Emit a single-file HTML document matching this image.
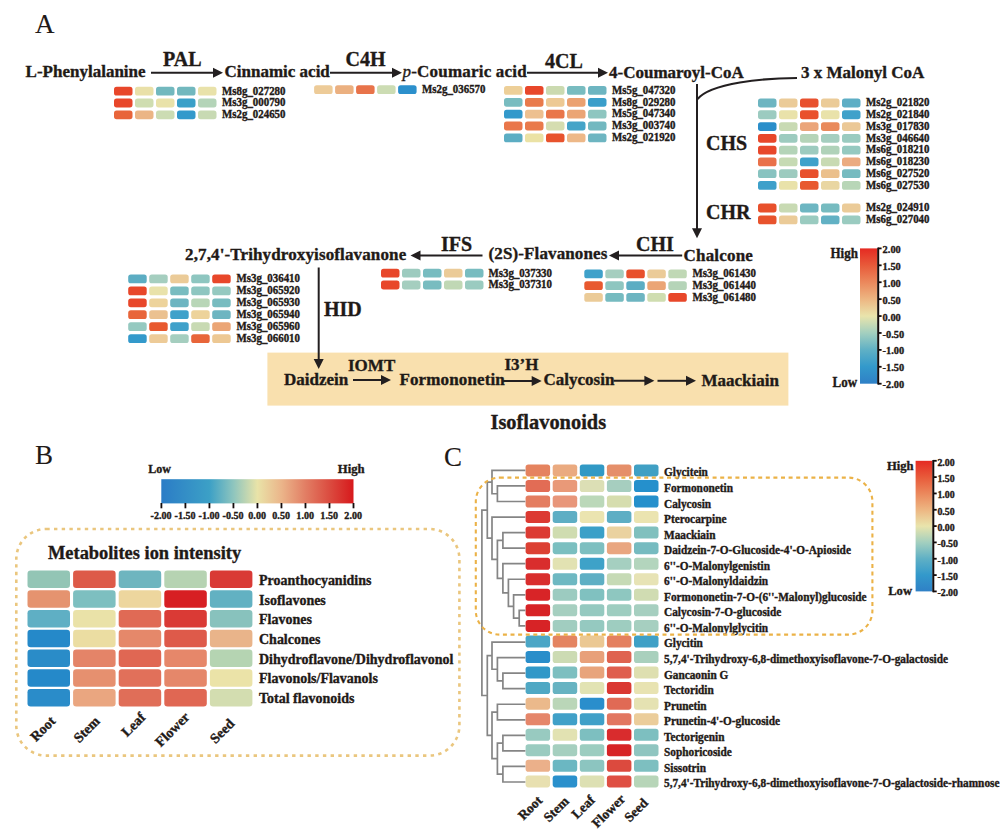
<!DOCTYPE html>
<html><head><meta charset="utf-8"><style>
html,body{margin:0;padding:0;background:#fff;}
svg{display:block;}
text{font-family:"Liberation Serif", serif;fill:#1f1a17;stroke:#1f1a17;stroke-width:0.35px;}
</style></head><body>
<svg width="1000" height="830" viewBox="0 0 1000 830">
<rect width="1000" height="830" fill="#fff"/>
<text x="35" y="33" font-size="27" font-weight="normal" style="stroke-width:0.1px">A</text>
<text x="25.6" y="77" font-size="17" font-weight="bold">L-Phenylalanine</text>
<text transform="translate(163,66.1) scale(1,1.05)" font-size="20" font-weight="bold">PAL</text>
<line x1="151" y1="72.8" x2="214" y2="72.8" stroke="#231f20" stroke-width="2"/>
<path d="M223 72.8 L213 67.8 L213 77.8 Z" fill="#231f20"/>
<text x="224.5" y="77" font-size="17" font-weight="bold">Cinnamic acid</text>
<text transform="translate(345.5,66.4) scale(1,1.05)" font-size="20" font-weight="bold">C4H</text>
<line x1="330" y1="72.8" x2="393" y2="72.8" stroke="#231f20" stroke-width="2"/>
<path d="M402 72.8 L392 67.8 L392 77.8 Z" fill="#231f20"/>
<text transform="translate(402.5,77) scale(1,1.0)" font-size="17" font-weight="bold" letter-spacing="0.2"><tspan font-style="italic" font-weight="normal">p</tspan>-Coumaric acid</text>
<text transform="translate(545,67.5) scale(1,1.05)" font-size="20" font-weight="bold">4CL</text>
<line x1="527" y1="72.8" x2="599" y2="72.8" stroke="#231f20" stroke-width="2"/>
<path d="M608 72.8 L598 67.8 L598 77.8 Z" fill="#231f20"/>
<text x="609" y="77.9" font-size="17" font-weight="bold">4-Coumaroyl-CoA</text>
<text x="801" y="77.9" font-size="17" font-weight="bold">3 x Malonyl CoA</text>
<path d="M797 78 C765 78 710 83 697.2 99.5" fill="none" stroke="#231f20" stroke-width="2"/>
<line x1="697" y1="84" x2="697" y2="229.2" stroke="#231f20" stroke-width="2"/>
<path d="M697 238.2 L692 228.2 L702 228.2 Z" fill="#231f20"/>
<text transform="translate(706,149.8) scale(1,1.05)" font-size="20" font-weight="bold">CHS</text>
<text transform="translate(706,219.2) scale(1,1.05)" font-size="20" font-weight="bold">CHR</text>
<rect x="114.00" y="86.80" width="18.5" height="8.8" rx="2.6" fill="#E8472A"/>
<rect x="135.00" y="86.80" width="18.5" height="8.8" rx="2.6" fill="#E9E0A8"/>
<rect x="156.00" y="86.80" width="18.5" height="8.8" rx="2.6" fill="#72B8BE"/>
<rect x="177.00" y="86.80" width="18.5" height="8.8" rx="2.6" fill="#72B8BE"/>
<rect x="198.00" y="86.80" width="18.5" height="8.8" rx="2.6" fill="#E9E2AA"/>
<text transform="translate(222,94.50) scale(1,1.08)" font-size="10.9" font-weight="bold">Ms8g_027280</text>
<rect x="114.00" y="98.60" width="18.5" height="8.8" rx="2.6" fill="#E8472A"/>
<rect x="135.00" y="98.60" width="18.5" height="8.8" rx="2.6" fill="#CFDDB0"/>
<rect x="156.00" y="98.60" width="18.5" height="8.8" rx="2.6" fill="#E9E2AA"/>
<rect x="177.00" y="98.60" width="18.5" height="8.8" rx="2.6" fill="#3AA0C8"/>
<rect x="198.00" y="98.60" width="18.5" height="8.8" rx="2.6" fill="#B4D4B8"/>
<text transform="translate(222,106.30) scale(1,1.08)" font-size="10.9" font-weight="bold">Ms3g_000790</text>
<rect x="114.00" y="110.40" width="18.5" height="8.8" rx="2.6" fill="#E8653A"/>
<rect x="135.00" y="110.40" width="18.5" height="8.8" rx="2.6" fill="#EBB585"/>
<rect x="156.00" y="110.40" width="18.5" height="8.8" rx="2.6" fill="#CCDCB3"/>
<rect x="177.00" y="110.40" width="18.5" height="8.8" rx="2.6" fill="#3399CB"/>
<rect x="198.00" y="110.40" width="18.5" height="8.8" rx="2.6" fill="#C8DAB3"/>
<text transform="translate(222,118.10) scale(1,1.08)" font-size="10.9" font-weight="bold">Ms2g_024650</text>
<rect x="314.10" y="85.20" width="18.5" height="8.8" rx="2.6" fill="#EDCB98"/>
<rect x="335.10" y="85.20" width="18.5" height="8.8" rx="2.6" fill="#EBB080"/>
<rect x="356.10" y="85.20" width="18.5" height="8.8" rx="2.6" fill="#E8734A"/>
<rect x="377.10" y="85.20" width="18.5" height="8.8" rx="2.6" fill="#CCDCB3"/>
<rect x="398.10" y="85.20" width="18.5" height="8.8" rx="2.6" fill="#2C90CC"/>
<text transform="translate(422,92.90) scale(1,1.08)" font-size="10.9" font-weight="bold">Ms2g_036570</text>
<rect x="504.00" y="86.00" width="18.5" height="8.8" rx="2.6" fill="#EDCF98"/>
<rect x="525.00" y="86.00" width="18.5" height="8.8" rx="2.6" fill="#E8472A"/>
<rect x="546.00" y="86.00" width="18.5" height="8.8" rx="2.6" fill="#CBDAB0"/>
<rect x="567.00" y="86.00" width="18.5" height="8.8" rx="2.6" fill="#78BCC0"/>
<rect x="588.00" y="86.00" width="18.5" height="8.8" rx="2.6" fill="#6DB5C1"/>
<text transform="translate(612,93.70) scale(1,1.08)" font-size="10.9" font-weight="bold">Ms5g_047320</text>
<rect x="504.00" y="97.88" width="18.5" height="8.8" rx="2.6" fill="#78BCC0"/>
<rect x="525.00" y="97.88" width="18.5" height="8.8" rx="2.6" fill="#E97A4B"/>
<rect x="546.00" y="97.88" width="18.5" height="8.8" rx="2.6" fill="#EDC994"/>
<rect x="567.00" y="97.88" width="18.5" height="8.8" rx="2.6" fill="#EBA170"/>
<rect x="588.00" y="97.88" width="18.5" height="8.8" rx="2.6" fill="#3A9ECA"/>
<text transform="translate(612,105.58) scale(1,1.08)" font-size="10.9" font-weight="bold">Ms8g_029280</text>
<rect x="504.00" y="109.75" width="18.5" height="8.8" rx="2.6" fill="#3399CB"/>
<rect x="525.00" y="109.75" width="18.5" height="8.8" rx="2.6" fill="#EDC090"/>
<rect x="546.00" y="109.75" width="18.5" height="8.8" rx="2.6" fill="#E9764A"/>
<rect x="567.00" y="109.75" width="18.5" height="8.8" rx="2.6" fill="#EBA575"/>
<rect x="588.00" y="109.75" width="18.5" height="8.8" rx="2.6" fill="#8EC6C0"/>
<text transform="translate(612,117.45) scale(1,1.08)" font-size="10.9" font-weight="bold">Ms5g_047340</text>
<rect x="504.00" y="121.62" width="18.5" height="8.8" rx="2.6" fill="#E9764A"/>
<rect x="525.00" y="121.62" width="18.5" height="8.8" rx="2.6" fill="#E97A4B"/>
<rect x="546.00" y="121.62" width="18.5" height="8.8" rx="2.6" fill="#D5DDB0"/>
<rect x="567.00" y="121.62" width="18.5" height="8.8" rx="2.6" fill="#45A4C8"/>
<rect x="588.00" y="121.62" width="18.5" height="8.8" rx="2.6" fill="#72B8C0"/>
<text transform="translate(612,129.32) scale(1,1.08)" font-size="10.9" font-weight="bold">Ms3g_003740</text>
<rect x="504.00" y="133.50" width="18.5" height="8.8" rx="2.6" fill="#5CADC3"/>
<rect x="525.00" y="133.50" width="18.5" height="8.8" rx="2.6" fill="#EBE2A5"/>
<rect x="546.00" y="133.50" width="18.5" height="8.8" rx="2.6" fill="#E8532D"/>
<rect x="567.00" y="133.50" width="18.5" height="8.8" rx="2.6" fill="#EDB888"/>
<rect x="588.00" y="133.50" width="18.5" height="8.8" rx="2.6" fill="#6DB5C1"/>
<text transform="translate(612,141.20) scale(1,1.08)" font-size="10.9" font-weight="bold">Ms2g_021920</text>
<rect x="758.00" y="98.60" width="18.5" height="8.8" rx="2.6" fill="#6DB5C1"/>
<rect x="779.00" y="98.60" width="18.5" height="8.8" rx="2.6" fill="#EBCB98"/>
<rect x="800.00" y="98.60" width="18.5" height="8.8" rx="2.6" fill="#E8512E"/>
<rect x="821.00" y="98.60" width="18.5" height="8.8" rx="2.6" fill="#EBCB98"/>
<rect x="842.00" y="98.60" width="18.5" height="8.8" rx="2.6" fill="#5EAEC5"/>
<text transform="translate(866,106.30) scale(1,1.08)" font-size="10.9" font-weight="bold">Ms2g_021820</text>
<rect x="758.00" y="110.37" width="18.5" height="8.8" rx="2.6" fill="#9CCBC0"/>
<rect x="779.00" y="110.37" width="18.5" height="8.8" rx="2.6" fill="#E9E2AA"/>
<rect x="800.00" y="110.37" width="18.5" height="8.8" rx="2.6" fill="#E9502C"/>
<rect x="821.00" y="110.37" width="18.5" height="8.8" rx="2.6" fill="#E9E2AA"/>
<rect x="842.00" y="110.37" width="18.5" height="8.8" rx="2.6" fill="#3FA1CA"/>
<text transform="translate(866,118.07) scale(1,1.08)" font-size="10.9" font-weight="bold">Ms2g_021840</text>
<rect x="758.00" y="122.14" width="18.5" height="8.8" rx="2.6" fill="#2A8ECA"/>
<rect x="779.00" y="122.14" width="18.5" height="8.8" rx="2.6" fill="#C8DAB3"/>
<rect x="800.00" y="122.14" width="18.5" height="8.8" rx="2.6" fill="#EBA57A"/>
<rect x="821.00" y="122.14" width="18.5" height="8.8" rx="2.6" fill="#E98A5C"/>
<rect x="842.00" y="122.14" width="18.5" height="8.8" rx="2.6" fill="#EBC896"/>
<text transform="translate(866,129.84) scale(1,1.08)" font-size="10.9" font-weight="bold">Ms3g_017830</text>
<rect x="758.00" y="133.91" width="18.5" height="8.8" rx="2.6" fill="#E8472A"/>
<rect x="779.00" y="133.91" width="18.5" height="8.8" rx="2.6" fill="#9DCBBF"/>
<rect x="800.00" y="133.91" width="18.5" height="8.8" rx="2.6" fill="#B5D4B8"/>
<rect x="821.00" y="133.91" width="18.5" height="8.8" rx="2.6" fill="#A5CEBF"/>
<rect x="842.00" y="133.91" width="18.5" height="8.8" rx="2.6" fill="#9ACBC0"/>
<text transform="translate(866,141.61) scale(1,1.08)" font-size="10.9" font-weight="bold">Ms3g_046640</text>
<rect x="758.00" y="145.68" width="18.5" height="8.8" rx="2.6" fill="#E8472A"/>
<rect x="779.00" y="145.68" width="18.5" height="8.8" rx="2.6" fill="#B4D4B8"/>
<rect x="800.00" y="145.68" width="18.5" height="8.8" rx="2.6" fill="#9DCBBF"/>
<rect x="821.00" y="145.68" width="18.5" height="8.8" rx="2.6" fill="#B0D2B9"/>
<rect x="842.00" y="145.68" width="18.5" height="8.8" rx="2.6" fill="#95C9C0"/>
<text transform="translate(866,153.38) scale(1,1.08)" font-size="10.9" font-weight="bold">Ms6g_018210</text>
<rect x="758.00" y="157.45" width="18.5" height="8.8" rx="2.6" fill="#E9714A"/>
<rect x="779.00" y="157.45" width="18.5" height="8.8" rx="2.6" fill="#C6DAB3"/>
<rect x="800.00" y="157.45" width="18.5" height="8.8" rx="2.6" fill="#3FA1CA"/>
<rect x="821.00" y="157.45" width="18.5" height="8.8" rx="2.6" fill="#C8DAB3"/>
<rect x="842.00" y="157.45" width="18.5" height="8.8" rx="2.6" fill="#EBAB80"/>
<text transform="translate(866,165.15) scale(1,1.08)" font-size="10.9" font-weight="bold">Ms6g_018230</text>
<rect x="758.00" y="169.22" width="18.5" height="8.8" rx="2.6" fill="#88C3C0"/>
<rect x="779.00" y="169.22" width="18.5" height="8.8" rx="2.6" fill="#9DCBBF"/>
<rect x="800.00" y="169.22" width="18.5" height="8.8" rx="2.6" fill="#E8502C"/>
<rect x="821.00" y="169.22" width="18.5" height="8.8" rx="2.6" fill="#EBC08C"/>
<rect x="842.00" y="169.22" width="18.5" height="8.8" rx="2.6" fill="#76BBC0"/>
<text transform="translate(866,176.92) scale(1,1.08)" font-size="10.9" font-weight="bold">Ms6g_027520</text>
<rect x="758.00" y="180.99" width="18.5" height="8.8" rx="2.6" fill="#3EA0CA"/>
<rect x="779.00" y="180.99" width="18.5" height="8.8" rx="2.6" fill="#E9E2AA"/>
<rect x="800.00" y="180.99" width="18.5" height="8.8" rx="2.6" fill="#E8592F"/>
<rect x="821.00" y="180.99" width="18.5" height="8.8" rx="2.6" fill="#E9D6A2"/>
<rect x="842.00" y="180.99" width="18.5" height="8.8" rx="2.6" fill="#B8D6B7"/>
<text transform="translate(866,188.69) scale(1,1.08)" font-size="10.9" font-weight="bold">Ms6g_027530</text>
<rect x="758.00" y="203.60" width="18.5" height="8.8" rx="2.6" fill="#E8502C"/>
<rect x="779.00" y="203.60" width="18.5" height="8.8" rx="2.6" fill="#C8DAB3"/>
<rect x="800.00" y="203.60" width="18.5" height="8.8" rx="2.6" fill="#6DB6C2"/>
<rect x="821.00" y="203.60" width="18.5" height="8.8" rx="2.6" fill="#76BBC0"/>
<rect x="842.00" y="203.60" width="18.5" height="8.8" rx="2.6" fill="#EBCB98"/>
<text transform="translate(866,211.30) scale(1,1.08)" font-size="10.9" font-weight="bold">Ms2g_024910</text>
<rect x="758.00" y="215.50" width="18.5" height="8.8" rx="2.6" fill="#E8532D"/>
<rect x="779.00" y="215.50" width="18.5" height="8.8" rx="2.6" fill="#EBCB98"/>
<rect x="800.00" y="215.50" width="18.5" height="8.8" rx="2.6" fill="#9ACBC0"/>
<rect x="821.00" y="215.50" width="18.5" height="8.8" rx="2.6" fill="#62B1C4"/>
<rect x="842.00" y="215.50" width="18.5" height="8.8" rx="2.6" fill="#9ACBC0"/>
<text transform="translate(866,223.20) scale(1,1.08)" font-size="10.9" font-weight="bold">Ms6g_027040</text>
<text x="185" y="260" font-size="17" font-weight="bold" letter-spacing="0.13">2,7,4'-Trihydroxyisoflavanone</text>
<line x1="482.5" y1="255.5" x2="419.5" y2="255.5" stroke="#231f20" stroke-width="2"/>
<path d="M410.5 255.5 L420.5 250.5 L420.5 260.5 Z" fill="#231f20"/>
<text transform="translate(441,250.5) scale(1,1.05)" font-size="20" font-weight="bold">IFS</text>
<text x="488.5" y="258.8" font-size="17" font-weight="bold" letter-spacing="0.12">(2S)-Flavanones</text>
<line x1="682.2" y1="255.4" x2="618" y2="255.4" stroke="#231f20" stroke-width="2"/>
<path d="M609 255.4 L619 250.4 L619 260.4 Z" fill="#231f20"/>
<text transform="translate(636,251.2) scale(1,1.05)" font-size="20" font-weight="bold">CHI</text>
<text x="683.5" y="261" font-size="17" font-weight="bold" letter-spacing="0.2">Chalcone</text>
<rect x="381.00" y="268.80" width="18.5" height="8.8" rx="2.6" fill="#E8472A"/>
<rect x="402.00" y="268.80" width="18.5" height="8.8" rx="2.6" fill="#9DCBBF"/>
<rect x="423.00" y="268.80" width="18.5" height="8.8" rx="2.6" fill="#78BCC0"/>
<rect x="444.00" y="268.80" width="18.5" height="8.8" rx="2.6" fill="#EBCB98"/>
<rect x="465.00" y="268.80" width="18.5" height="8.8" rx="2.6" fill="#78BCC0"/>
<text transform="translate(488.5,276.50) scale(1,1.08)" font-size="10.9" font-weight="bold">Ms3g_037330</text>
<rect x="381.00" y="280.60" width="18.5" height="8.8" rx="2.6" fill="#E8472A"/>
<rect x="402.00" y="280.60" width="18.5" height="8.8" rx="2.6" fill="#A5CEBF"/>
<rect x="423.00" y="280.60" width="18.5" height="8.8" rx="2.6" fill="#78BCC0"/>
<rect x="444.00" y="280.60" width="18.5" height="8.8" rx="2.6" fill="#C0D8B5"/>
<rect x="465.00" y="280.60" width="18.5" height="8.8" rx="2.6" fill="#9ACBC0"/>
<text transform="translate(488.5,288.30) scale(1,1.08)" font-size="10.9" font-weight="bold">Ms3g_037310</text>
<rect x="584.30" y="269.50" width="18.5" height="8.8" rx="2.6" fill="#3FA1CA"/>
<rect x="605.30" y="269.50" width="18.5" height="8.8" rx="2.6" fill="#A5CEBF"/>
<rect x="626.30" y="269.50" width="18.5" height="8.8" rx="2.6" fill="#E8502C"/>
<rect x="647.30" y="269.50" width="18.5" height="8.8" rx="2.6" fill="#EBCB98"/>
<rect x="668.30" y="269.50" width="18.5" height="8.8" rx="2.6" fill="#C0D8B5"/>
<text transform="translate(692.5,277.20) scale(1,1.08)" font-size="10.9" font-weight="bold">Ms3g_061430</text>
<rect x="584.30" y="281.25" width="18.5" height="8.8" rx="2.6" fill="#E8592F"/>
<rect x="605.30" y="281.25" width="18.5" height="8.8" rx="2.6" fill="#8EC6C0"/>
<rect x="626.30" y="281.25" width="18.5" height="8.8" rx="2.6" fill="#5CADC3"/>
<rect x="647.30" y="281.25" width="18.5" height="8.8" rx="2.6" fill="#EBA575"/>
<rect x="668.30" y="281.25" width="18.5" height="8.8" rx="2.6" fill="#B5D4B8"/>
<text transform="translate(692.5,288.95) scale(1,1.08)" font-size="10.9" font-weight="bold">Ms3g_061440</text>
<rect x="584.30" y="293.00" width="18.5" height="8.8" rx="2.6" fill="#EBCB98"/>
<rect x="605.30" y="293.00" width="18.5" height="8.8" rx="2.6" fill="#76BBC0"/>
<rect x="626.30" y="293.00" width="18.5" height="8.8" rx="2.6" fill="#6DB5C1"/>
<rect x="647.30" y="293.00" width="18.5" height="8.8" rx="2.6" fill="#CFDDB0"/>
<rect x="668.30" y="293.00" width="18.5" height="8.8" rx="2.6" fill="#E8472A"/>
<text transform="translate(692.5,300.70) scale(1,1.08)" font-size="10.9" font-weight="bold">Ms3g_061480</text>
<rect x="128.20" y="274.50" width="18.5" height="8.8" rx="2.6" fill="#5CADC3"/>
<rect x="149.20" y="274.50" width="18.5" height="8.8" rx="2.6" fill="#A5CEBF"/>
<rect x="170.20" y="274.50" width="18.5" height="8.8" rx="2.6" fill="#EBCB98"/>
<rect x="191.20" y="274.50" width="18.5" height="8.8" rx="2.6" fill="#8EC6C0"/>
<rect x="212.20" y="274.50" width="18.5" height="8.8" rx="2.6" fill="#E8472A"/>
<text transform="translate(236.5,282.20) scale(1,1.08)" font-size="10.9" font-weight="bold">Ms3g_036410</text>
<rect x="128.20" y="286.44" width="18.5" height="8.8" rx="2.6" fill="#E8472A"/>
<rect x="149.20" y="286.44" width="18.5" height="8.8" rx="2.6" fill="#E9E2AA"/>
<rect x="170.20" y="286.44" width="18.5" height="8.8" rx="2.6" fill="#78BCC0"/>
<rect x="191.20" y="286.44" width="18.5" height="8.8" rx="2.6" fill="#8EC6C0"/>
<rect x="212.20" y="286.44" width="18.5" height="8.8" rx="2.6" fill="#95C9C0"/>
<text transform="translate(236.5,294.14) scale(1,1.08)" font-size="10.9" font-weight="bold">Ms3g_065920</text>
<rect x="128.20" y="298.38" width="18.5" height="8.8" rx="2.6" fill="#E8472A"/>
<rect x="149.20" y="298.38" width="18.5" height="8.8" rx="2.6" fill="#EDD39B"/>
<rect x="170.20" y="298.38" width="18.5" height="8.8" rx="2.6" fill="#6DB5C1"/>
<rect x="191.20" y="298.38" width="18.5" height="8.8" rx="2.6" fill="#B8D6B7"/>
<rect x="212.20" y="298.38" width="18.5" height="8.8" rx="2.6" fill="#78BCC0"/>
<text transform="translate(236.5,306.08) scale(1,1.08)" font-size="10.9" font-weight="bold">Ms3g_065930</text>
<rect x="128.20" y="310.32" width="18.5" height="8.8" rx="2.6" fill="#E8653A"/>
<rect x="149.20" y="310.32" width="18.5" height="8.8" rx="2.6" fill="#EBC190"/>
<rect x="170.20" y="310.32" width="18.5" height="8.8" rx="2.6" fill="#3FA1CA"/>
<rect x="191.20" y="310.32" width="18.5" height="8.8" rx="2.6" fill="#EDD39B"/>
<rect x="212.20" y="310.32" width="18.5" height="8.8" rx="2.6" fill="#6DB5C1"/>
<text transform="translate(236.5,318.02) scale(1,1.08)" font-size="10.9" font-weight="bold">Ms3g_065940</text>
<rect x="128.20" y="322.26" width="18.5" height="8.8" rx="2.6" fill="#95C9C0"/>
<rect x="149.20" y="322.26" width="18.5" height="8.8" rx="2.6" fill="#E8592F"/>
<rect x="170.20" y="322.26" width="18.5" height="8.8" rx="2.6" fill="#3FA1CA"/>
<rect x="191.20" y="322.26" width="18.5" height="8.8" rx="2.6" fill="#C8DAB3"/>
<rect x="212.20" y="322.26" width="18.5" height="8.8" rx="2.6" fill="#EBA575"/>
<text transform="translate(236.5,329.96) scale(1,1.08)" font-size="10.9" font-weight="bold">Ms3g_065960</text>
<rect x="128.20" y="334.20" width="18.5" height="8.8" rx="2.6" fill="#3399CB"/>
<rect x="149.20" y="334.20" width="18.5" height="8.8" rx="2.6" fill="#EDCB98"/>
<rect x="170.20" y="334.20" width="18.5" height="8.8" rx="2.6" fill="#A5CEBF"/>
<rect x="191.20" y="334.20" width="18.5" height="8.8" rx="2.6" fill="#E8653A"/>
<rect x="212.20" y="334.20" width="18.5" height="8.8" rx="2.6" fill="#EDC893"/>
<text transform="translate(236.5,341.90) scale(1,1.08)" font-size="10.9" font-weight="bold">Ms3g_066010</text>
<rect x="267.4" y="352.6" width="521" height="53" fill="#F9E0AE"/>
<line x1="318.7" y1="267.5" x2="318.7" y2="360" stroke="#231f20" stroke-width="2"/>
<path d="M318.7 369 L313.7 359 L323.7 359 Z" fill="#231f20"/>
<text transform="translate(324,316.3) scale(1,1.05)" font-size="20" font-weight="bold">HID</text>
<text x="284" y="384.5" font-size="17" font-weight="bold">Daidzein</text>
<text x="348" y="370.6" font-size="17" font-weight="bold">IOMT</text>
<line x1="353" y1="380" x2="382" y2="380" stroke="#231f20" stroke-width="2"/>
<path d="M391 380 L381 375 L381 385 Z" fill="#231f20"/>
<text x="399.5" y="384.5" font-size="17" font-weight="bold" letter-spacing="0.12">Formononetin</text>
<line x1="502.5" y1="381" x2="532.7" y2="381" stroke="#231f20" stroke-width="2"/>
<path d="M541.7 381 L531.7 376 L531.7 386 Z" fill="#231f20"/>
<text x="504.5" y="370" font-size="17" font-weight="bold">I3’H</text>
<text x="543.5" y="385" font-size="17" font-weight="bold">Calycosin</text>
<line x1="613.5" y1="380.8" x2="645.4" y2="380.8" stroke="#231f20" stroke-width="2"/>
<path d="M654.4 380.8 L644.4 375.8 L644.4 385.8 Z" fill="#231f20"/>
<line x1="657.5" y1="380.8" x2="687" y2="380.8" stroke="#231f20" stroke-width="2"/>
<path d="M696 380.8 L686 375.8 L686 385.8 Z" fill="#231f20"/>
<text x="701.5" y="385.5" font-size="17" font-weight="bold">Maackiain</text>
<text transform="translate(490.5,428.7) scale(1,1.05)" font-size="20.4" font-weight="bold">Isoflavonoids</text>
<defs><linearGradient id="ga" x1="0" y1="0" x2="0" y2="1"><stop offset="0" stop-color="#E52A22"/><stop offset="0.125" stop-color="#E85A3A"/><stop offset="0.25" stop-color="#EB885C"/><stop offset="0.375" stop-color="#EDB682"/><stop offset="0.5" stop-color="#E9E4AC"/><stop offset="0.625" stop-color="#A3CFBF"/><stop offset="0.75" stop-color="#5FB0C5"/><stop offset="0.875" stop-color="#3399CB"/><stop offset="1" stop-color="#2F80C6"/></linearGradient></defs>
<rect x="860" y="248.4" width="17.5" height="135.3" fill="url(#ga)"/>
<line x1="878.2" y1="247.6" x2="878.2" y2="384.5" stroke="#140c0c" stroke-width="2"/>
<line x1="878" y1="248.40" x2="881.6" y2="248.40" stroke="#140c0c" stroke-width="1.8"/>
<text transform="translate(882.6,253.00) scale(1,0.95)" font-size="10.4" font-weight="bold">2.00</text>
<line x1="878" y1="265.31" x2="881.6" y2="265.31" stroke="#140c0c" stroke-width="1.8"/>
<text transform="translate(882.6,269.91) scale(1,0.95)" font-size="10.4" font-weight="bold">1.50</text>
<line x1="878" y1="282.23" x2="881.6" y2="282.23" stroke="#140c0c" stroke-width="1.8"/>
<text transform="translate(882.6,286.83) scale(1,0.95)" font-size="10.4" font-weight="bold">1.00</text>
<line x1="878" y1="299.14" x2="881.6" y2="299.14" stroke="#140c0c" stroke-width="1.8"/>
<text transform="translate(882.6,303.74) scale(1,0.95)" font-size="10.4" font-weight="bold">0.50</text>
<line x1="878" y1="316.05" x2="881.6" y2="316.05" stroke="#140c0c" stroke-width="1.8"/>
<text transform="translate(882.6,320.65) scale(1,0.95)" font-size="10.4" font-weight="bold">0.00</text>
<line x1="878" y1="332.96" x2="881.6" y2="332.96" stroke="#140c0c" stroke-width="1.8"/>
<text transform="translate(882.6,337.56) scale(1,0.95)" font-size="10.4" font-weight="bold">-0.50</text>
<line x1="878" y1="349.88" x2="881.6" y2="349.88" stroke="#140c0c" stroke-width="1.8"/>
<text transform="translate(882.6,354.48) scale(1,0.95)" font-size="10.4" font-weight="bold">-1.00</text>
<line x1="878" y1="366.79" x2="881.6" y2="366.79" stroke="#140c0c" stroke-width="1.8"/>
<text transform="translate(882.6,371.39) scale(1,0.95)" font-size="10.4" font-weight="bold">-1.50</text>
<line x1="878" y1="383.70" x2="881.6" y2="383.70" stroke="#140c0c" stroke-width="1.8"/>
<text transform="translate(882.6,388.30) scale(1,0.95)" font-size="10.4" font-weight="bold">-2.00</text>
<text transform="translate(830.5,257.7) scale(1,1.04)" font-size="13" font-weight="bold">High</text>
<text transform="translate(832.5,386.8) scale(1,1.04)" font-size="13" font-weight="bold">Low</text>
<text x="35" y="464" font-size="27" font-weight="normal" style="stroke-width:0.1px">B</text>
<defs><linearGradient id="gb" x1="0" y1="0" x2="1" y2="0"><stop offset="0" stop-color="#2B7CC6"/><stop offset="0.25" stop-color="#3CA0C6"/><stop offset="0.375" stop-color="#8EC5BE"/><stop offset="0.5" stop-color="#E9E3A8"/><stop offset="0.625" stop-color="#EBB58A"/><stop offset="0.75" stop-color="#E27E64"/><stop offset="0.875" stop-color="#DB4C40"/><stop offset="1" stop-color="#D7191C"/></linearGradient></defs>
<rect x="161.3" y="479.2" width="192.2" height="24.2" fill="url(#gb)"/>
<line x1="161.40" y1="503" x2="161.40" y2="508.3" stroke="#140c0c" stroke-width="1.8"/>
<text x="161.10" y="518.7" font-size="10.1" font-weight="bold" text-anchor="middle">-2.00</text>
<line x1="185.41" y1="503" x2="185.41" y2="508.3" stroke="#140c0c" stroke-width="1.8"/>
<text x="185.11" y="518.7" font-size="10.1" font-weight="bold" text-anchor="middle">-1.50</text>
<line x1="209.43" y1="503" x2="209.43" y2="508.3" stroke="#140c0c" stroke-width="1.8"/>
<text x="209.12" y="518.7" font-size="10.1" font-weight="bold" text-anchor="middle">-1.00</text>
<line x1="233.44" y1="503" x2="233.44" y2="508.3" stroke="#140c0c" stroke-width="1.8"/>
<text x="233.14" y="518.7" font-size="10.1" font-weight="bold" text-anchor="middle">-0.50</text>
<line x1="257.45" y1="503" x2="257.45" y2="508.3" stroke="#140c0c" stroke-width="1.8"/>
<text x="257.15" y="518.7" font-size="10.1" font-weight="bold" text-anchor="middle">0.00</text>
<line x1="281.46" y1="503" x2="281.46" y2="508.3" stroke="#140c0c" stroke-width="1.8"/>
<text x="281.16" y="518.7" font-size="10.1" font-weight="bold" text-anchor="middle">0.50</text>
<line x1="305.48" y1="503" x2="305.48" y2="508.3" stroke="#140c0c" stroke-width="1.8"/>
<text x="305.18" y="518.7" font-size="10.1" font-weight="bold" text-anchor="middle">1.00</text>
<line x1="329.49" y1="503" x2="329.49" y2="508.3" stroke="#140c0c" stroke-width="1.8"/>
<text x="329.19" y="518.7" font-size="10.1" font-weight="bold" text-anchor="middle">1.50</text>
<line x1="353.50" y1="503" x2="353.50" y2="508.3" stroke="#140c0c" stroke-width="1.8"/>
<text x="353.20" y="518.7" font-size="10.1" font-weight="bold" text-anchor="middle">2.00</text>
<text transform="translate(148.2,473) scale(1,1.08)" font-size="12" font-weight="bold">Low</text>
<text transform="translate(337.8,473) scale(1,1.04)" font-size="12.7" font-weight="bold">High</text>
<rect x="16.3" y="529" width="443.1" height="226.6" rx="30" fill="none" stroke="#EAC67E" stroke-width="2.6" stroke-dasharray="3.4 4.3"/>
<text x="48" y="558.8" font-size="18.4" font-weight="bold">Metabolites ion intensity</text>
<rect x="27.50" y="570.50" width="42.5" height="17.4" rx="3.2" fill="#93C5B5"/>
<rect x="73.10" y="570.50" width="42.5" height="17.4" rx="3.2" fill="#DD5A48"/>
<rect x="118.70" y="570.50" width="42.5" height="17.4" rx="3.2" fill="#6EB5BF"/>
<rect x="164.30" y="570.50" width="42.5" height="17.4" rx="3.2" fill="#B6D3B2"/>
<rect x="209.90" y="570.50" width="42.5" height="17.4" rx="3.2" fill="#D93A35"/>
<text transform="translate(259,584.80) scale(1,1.04)" font-size="14" font-weight="bold">Proanthocyanidins</text>
<rect x="27.50" y="590.25" width="42.5" height="17.4" rx="3.2" fill="#E5936F"/>
<rect x="73.10" y="590.25" width="42.5" height="17.4" rx="3.2" fill="#7DBFC0"/>
<rect x="118.70" y="590.25" width="42.5" height="17.4" rx="3.2" fill="#EDD69E"/>
<rect x="164.30" y="590.25" width="42.5" height="17.4" rx="3.2" fill="#D71F23"/>
<rect x="209.90" y="590.25" width="42.5" height="17.4" rx="3.2" fill="#62B1C2"/>
<text transform="translate(259,604.50) scale(1,1.04)" font-size="14" font-weight="bold">Isoflavones</text>
<rect x="27.50" y="610.00" width="42.5" height="17.4" rx="3.2" fill="#5FAFC4"/>
<rect x="73.10" y="610.00" width="42.5" height="17.4" rx="3.2" fill="#EAE2A8"/>
<rect x="118.70" y="610.00" width="42.5" height="17.4" rx="3.2" fill="#E06A55"/>
<rect x="164.30" y="610.00" width="42.5" height="17.4" rx="3.2" fill="#DA3A35"/>
<rect x="209.90" y="610.00" width="42.5" height="17.4" rx="3.2" fill="#88C2BD"/>
<text transform="translate(259,624.20) scale(1,1.04)" font-size="14" font-weight="bold">Flavones</text>
<rect x="27.50" y="629.75" width="42.5" height="17.4" rx="3.2" fill="#2589C9"/>
<rect x="73.10" y="629.75" width="42.5" height="17.4" rx="3.2" fill="#EBDDA2"/>
<rect x="118.70" y="629.75" width="42.5" height="17.4" rx="3.2" fill="#E5886A"/>
<rect x="164.30" y="629.75" width="42.5" height="17.4" rx="3.2" fill="#DE5A4A"/>
<rect x="209.90" y="629.75" width="42.5" height="17.4" rx="3.2" fill="#E9B48A"/>
<text transform="translate(259,643.90) scale(1,1.04)" font-size="14" font-weight="bold">Chalcones</text>
<rect x="27.50" y="649.50" width="42.5" height="17.4" rx="3.2" fill="#2A8CC8"/>
<rect x="73.10" y="649.50" width="42.5" height="17.4" rx="3.2" fill="#E48468"/>
<rect x="118.70" y="649.50" width="42.5" height="17.4" rx="3.2" fill="#E06753"/>
<rect x="164.30" y="649.50" width="42.5" height="17.4" rx="3.2" fill="#E6876A"/>
<rect x="209.90" y="649.50" width="42.5" height="17.4" rx="3.2" fill="#B5D4B2"/>
<text transform="translate(259,663.60) scale(1,1.04)" font-size="14" font-weight="bold">Dihydroflavone/Dihydroflavonol</text>
<rect x="27.50" y="669.25" width="42.5" height="17.4" rx="3.2" fill="#2589C9"/>
<rect x="73.10" y="669.25" width="42.5" height="17.4" rx="3.2" fill="#E6906F"/>
<rect x="118.70" y="669.25" width="42.5" height="17.4" rx="3.2" fill="#E1705A"/>
<rect x="164.30" y="669.25" width="42.5" height="17.4" rx="3.2" fill="#E5876A"/>
<rect x="209.90" y="669.25" width="42.5" height="17.4" rx="3.2" fill="#EBE3A8"/>
<text transform="translate(259,683.30) scale(1,1.04)" font-size="14" font-weight="bold">Flavonols/Flavanols</text>
<rect x="27.50" y="689.00" width="42.5" height="17.4" rx="3.2" fill="#2A8CC9"/>
<rect x="73.10" y="689.00" width="42.5" height="17.4" rx="3.2" fill="#EAA680"/>
<rect x="118.70" y="689.00" width="42.5" height="17.4" rx="3.2" fill="#E06E58"/>
<rect x="164.30" y="689.00" width="42.5" height="17.4" rx="3.2" fill="#E06753"/>
<rect x="209.90" y="689.00" width="42.5" height="17.4" rx="3.2" fill="#D3DDB0"/>
<text transform="translate(259,703.00) scale(1,1.04)" font-size="14" font-weight="bold">Total flavonoids</text>
<text transform="translate(42.80,728.80) rotate(-45)" font-size="14" font-weight="bold" text-anchor="middle" dy="0.33em">Root</text>
<text transform="translate(86.60,729.50) rotate(-45)" font-size="14" font-weight="bold" text-anchor="middle" dy="0.33em">Stem</text>
<text transform="translate(133.40,724.60) rotate(-45)" font-size="14" font-weight="bold" text-anchor="middle" dy="0.33em">Leaf</text>
<text transform="translate(172.40,729.40) rotate(-45)" font-size="14" font-weight="bold" text-anchor="middle" dy="0.33em">Flower</text>
<text transform="translate(222.20,731.20) rotate(-45)" font-size="14" font-weight="bold" text-anchor="middle" dy="0.33em">Seed</text>
<text x="444" y="465.5" font-size="27" font-weight="normal" style="stroke-width:0.1px">C</text>
<rect x="525.60" y="464.40" width="24.5" height="12" rx="2.8" fill="#E5835F"/>
<rect x="552.70" y="464.40" width="24.5" height="12" rx="2.8" fill="#EAAA80"/>
<rect x="579.80" y="464.40" width="24.5" height="12" rx="2.8" fill="#3199C5"/>
<rect x="606.90" y="464.40" width="24.5" height="12" rx="2.8" fill="#E58F6A"/>
<rect x="634.00" y="464.40" width="24.5" height="12" rx="2.8" fill="#40A0C4"/>
<text transform="translate(664,476.40) scale(1,1.08)" font-size="11.3" font-weight="bold">Glycitein</text>
<rect x="525.60" y="479.95" width="24.5" height="12" rx="2.8" fill="#E26C55"/>
<rect x="552.70" y="479.95" width="24.5" height="12" rx="2.8" fill="#E99978"/>
<rect x="579.80" y="479.95" width="24.5" height="12" rx="2.8" fill="#DCDFB5"/>
<rect x="606.90" y="479.95" width="24.5" height="12" rx="2.8" fill="#A6CEBF"/>
<rect x="634.00" y="479.95" width="24.5" height="12" rx="2.8" fill="#2590CC"/>
<text transform="translate(664,491.95) scale(1,1.08)" font-size="11.3" font-weight="bold">Formononetin</text>
<rect x="525.60" y="495.50" width="24.5" height="12" rx="2.8" fill="#E47D60"/>
<rect x="552.70" y="495.50" width="24.5" height="12" rx="2.8" fill="#E8967A"/>
<rect x="579.80" y="495.50" width="24.5" height="12" rx="2.8" fill="#BBD8B9"/>
<rect x="606.90" y="495.50" width="24.5" height="12" rx="2.8" fill="#D6DDAE"/>
<rect x="634.00" y="495.50" width="24.5" height="12" rx="2.8" fill="#2590CC"/>
<text transform="translate(664,507.50) scale(1,1.08)" font-size="11.3" font-weight="bold">Calycosin</text>
<rect x="525.60" y="511.05" width="24.5" height="12" rx="2.8" fill="#DC3A32"/>
<rect x="552.70" y="511.05" width="24.5" height="12" rx="2.8" fill="#5EAEC4"/>
<rect x="579.80" y="511.05" width="24.5" height="12" rx="2.8" fill="#EBE4B0"/>
<rect x="606.90" y="511.05" width="24.5" height="12" rx="2.8" fill="#5EAEC4"/>
<rect x="634.00" y="511.05" width="24.5" height="12" rx="2.8" fill="#EBE4B0"/>
<text transform="translate(664,523.05) scale(1,1.08)" font-size="11.3" font-weight="bold">Pterocarpine</text>
<rect x="525.60" y="526.60" width="24.5" height="12" rx="2.8" fill="#DC3B33"/>
<rect x="552.70" y="526.60" width="24.5" height="12" rx="2.8" fill="#CFDCB0"/>
<rect x="579.80" y="526.60" width="24.5" height="12" rx="2.8" fill="#3AA0C8"/>
<rect x="606.90" y="526.60" width="24.5" height="12" rx="2.8" fill="#EAD2A0"/>
<rect x="634.00" y="526.60" width="24.5" height="12" rx="2.8" fill="#80C0BE"/>
<text transform="translate(664,538.60) scale(1,1.08)" font-size="11.3" font-weight="bold">Maackiain</text>
<rect x="525.60" y="542.15" width="24.5" height="12" rx="2.8" fill="#DC4033"/>
<rect x="552.70" y="542.15" width="24.5" height="12" rx="2.8" fill="#7BBFC0"/>
<rect x="579.80" y="542.15" width="24.5" height="12" rx="2.8" fill="#7DBFC0"/>
<rect x="606.90" y="542.15" width="24.5" height="12" rx="2.8" fill="#E9A680"/>
<rect x="634.00" y="542.15" width="24.5" height="12" rx="2.8" fill="#76BBC0"/>
<text transform="translate(664,554.15) scale(1,1.08)" font-size="11.3" font-weight="bold">Daidzein-7-O-Glucoside-4'-O-Apioside</text>
<rect x="525.60" y="557.70" width="24.5" height="12" rx="2.8" fill="#D92D2D"/>
<rect x="552.70" y="557.70" width="24.5" height="12" rx="2.8" fill="#E2E2B2"/>
<rect x="579.80" y="557.70" width="24.5" height="12" rx="2.8" fill="#3EA2C8"/>
<rect x="606.90" y="557.70" width="24.5" height="12" rx="2.8" fill="#A5CFC0"/>
<rect x="634.00" y="557.70" width="24.5" height="12" rx="2.8" fill="#B3D5BD"/>
<text transform="translate(664,569.70) scale(1,1.08)" font-size="11.3" font-weight="bold">6''-O-Malonylgenistin</text>
<rect x="525.60" y="573.25" width="24.5" height="12" rx="2.8" fill="#D92E2D"/>
<rect x="552.70" y="573.25" width="24.5" height="12" rx="2.8" fill="#6EB8C2"/>
<rect x="579.80" y="573.25" width="24.5" height="12" rx="2.8" fill="#5EAFC4"/>
<rect x="606.90" y="573.25" width="24.5" height="12" rx="2.8" fill="#C6DAB5"/>
<rect x="634.00" y="573.25" width="24.5" height="12" rx="2.8" fill="#E7E3B5"/>
<text transform="translate(664,585.25) scale(1,1.08)" font-size="11.3" font-weight="bold">6''-O-Malonyldaidzin</text>
<rect x="525.60" y="588.80" width="24.5" height="12" rx="2.8" fill="#D82427"/>
<rect x="552.70" y="588.80" width="24.5" height="12" rx="2.8" fill="#9CCBC0"/>
<rect x="579.80" y="588.80" width="24.5" height="12" rx="2.8" fill="#80C1C0"/>
<rect x="606.90" y="588.80" width="24.5" height="12" rx="2.8" fill="#8EC7C0"/>
<rect x="634.00" y="588.80" width="24.5" height="12" rx="2.8" fill="#D0DCB2"/>
<text transform="translate(664,600.80) scale(1,1.08)" font-size="11.3" font-weight="bold">Formononetin-7-O-(6''-Malonyl)glucoside</text>
<rect x="525.60" y="604.35" width="24.5" height="12" rx="2.8" fill="#D72326"/>
<rect x="552.70" y="604.35" width="24.5" height="12" rx="2.8" fill="#A6CFC0"/>
<rect x="579.80" y="604.35" width="24.5" height="12" rx="2.8" fill="#95C9C0"/>
<rect x="606.90" y="604.35" width="24.5" height="12" rx="2.8" fill="#9ECDC0"/>
<rect x="634.00" y="604.35" width="24.5" height="12" rx="2.8" fill="#A6CFC0"/>
<text transform="translate(664,616.35) scale(1,1.08)" font-size="11.3" font-weight="bold">Calycosin-7-O-glucoside</text>
<rect x="525.60" y="619.90" width="24.5" height="12" rx="2.8" fill="#D72326"/>
<rect x="552.70" y="619.90" width="24.5" height="12" rx="2.8" fill="#A1CDC0"/>
<rect x="579.80" y="619.90" width="24.5" height="12" rx="2.8" fill="#95C9C0"/>
<rect x="606.90" y="619.90" width="24.5" height="12" rx="2.8" fill="#9ECDC0"/>
<rect x="634.00" y="619.90" width="24.5" height="12" rx="2.8" fill="#A6CFC0"/>
<text transform="translate(664,631.90) scale(1,1.08)" font-size="11.3" font-weight="bold">6''-O-Malonylglycitin</text>
<rect x="525.60" y="635.45" width="24.5" height="12" rx="2.8" fill="#4BA6C6"/>
<rect x="552.70" y="635.45" width="24.5" height="12" rx="2.8" fill="#E48461"/>
<rect x="579.80" y="635.45" width="24.5" height="12" rx="2.8" fill="#EBC893"/>
<rect x="606.90" y="635.45" width="24.5" height="12" rx="2.8" fill="#E4805F"/>
<rect x="634.00" y="635.45" width="24.5" height="12" rx="2.8" fill="#3FA0C6"/>
<text transform="translate(664,647.45) scale(1,1.08)" font-size="11.3" font-weight="bold">Glycitin</text>
<rect x="525.60" y="651.00" width="24.5" height="12" rx="2.8" fill="#2A8ECA"/>
<rect x="552.70" y="651.00" width="24.5" height="12" rx="2.8" fill="#CCDBB3"/>
<rect x="579.80" y="651.00" width="24.5" height="12" rx="2.8" fill="#E8A07A"/>
<rect x="606.90" y="651.00" width="24.5" height="12" rx="2.8" fill="#DF6350"/>
<rect x="634.00" y="651.00" width="24.5" height="12" rx="2.8" fill="#A9D0BD"/>
<text transform="translate(664,663.00) scale(1,1.08)" font-size="11.3" font-weight="bold">5,7,4'-Trihydroxy-6,8-dimethoxyisoflavone-7-O-galactoside</text>
<rect x="525.60" y="666.55" width="24.5" height="12" rx="2.8" fill="#3198C8"/>
<rect x="552.70" y="666.55" width="24.5" height="12" rx="2.8" fill="#7DBFC0"/>
<rect x="579.80" y="666.55" width="24.5" height="12" rx="2.8" fill="#E8A47C"/>
<rect x="606.90" y="666.55" width="24.5" height="12" rx="2.8" fill="#DF5E4E"/>
<rect x="634.00" y="666.55" width="24.5" height="12" rx="2.8" fill="#DEDFB0"/>
<text transform="translate(664,678.55) scale(1,1.08)" font-size="11.3" font-weight="bold">Gancaonin G</text>
<rect x="525.60" y="682.10" width="24.5" height="12" rx="2.8" fill="#4FA8C4"/>
<rect x="552.70" y="682.10" width="24.5" height="12" rx="2.8" fill="#67B3C2"/>
<rect x="579.80" y="682.10" width="24.5" height="12" rx="2.8" fill="#E2E3B3"/>
<rect x="606.90" y="682.10" width="24.5" height="12" rx="2.8" fill="#DA3832"/>
<rect x="634.00" y="682.10" width="24.5" height="12" rx="2.8" fill="#E8E3B2"/>
<text transform="translate(664,694.10) scale(1,1.08)" font-size="11.3" font-weight="bold">Tectoridin</text>
<rect x="525.60" y="697.65" width="24.5" height="12" rx="2.8" fill="#EBB98B"/>
<rect x="552.70" y="697.65" width="24.5" height="12" rx="2.8" fill="#BAD6B8"/>
<rect x="579.80" y="697.65" width="24.5" height="12" rx="2.8" fill="#2A8ECC"/>
<rect x="606.90" y="697.65" width="24.5" height="12" rx="2.8" fill="#E06A55"/>
<rect x="634.00" y="697.65" width="24.5" height="12" rx="2.8" fill="#E5E2B2"/>
<text transform="translate(664,709.65) scale(1,1.08)" font-size="11.3" font-weight="bold">Prunetin</text>
<rect x="525.60" y="713.20" width="24.5" height="12" rx="2.8" fill="#E5866A"/>
<rect x="552.70" y="713.20" width="24.5" height="12" rx="2.8" fill="#40A0C8"/>
<rect x="579.80" y="713.20" width="24.5" height="12" rx="2.8" fill="#40A0C8"/>
<rect x="606.90" y="713.20" width="24.5" height="12" rx="2.8" fill="#E27660"/>
<rect x="634.00" y="713.20" width="24.5" height="12" rx="2.8" fill="#EBCD9B"/>
<text transform="translate(664,725.20) scale(1,1.08)" font-size="11.3" font-weight="bold">Prunetin-4'-O-glucoside</text>
<rect x="525.60" y="728.75" width="24.5" height="12" rx="2.8" fill="#98CAC0"/>
<rect x="552.70" y="728.75" width="24.5" height="12" rx="2.8" fill="#E2E2B2"/>
<rect x="579.80" y="728.75" width="24.5" height="12" rx="2.8" fill="#7DBFC0"/>
<rect x="606.90" y="728.75" width="24.5" height="12" rx="2.8" fill="#D92C2D"/>
<rect x="634.00" y="728.75" width="24.5" height="12" rx="2.8" fill="#7DBFC0"/>
<text transform="translate(664,740.75) scale(1,1.08)" font-size="11.3" font-weight="bold">Tectorigenin</text>
<rect x="525.60" y="744.30" width="24.5" height="12" rx="2.8" fill="#9ACBC0"/>
<rect x="552.70" y="744.30" width="24.5" height="12" rx="2.8" fill="#A5CFBF"/>
<rect x="579.80" y="744.30" width="24.5" height="12" rx="2.8" fill="#9CCDC0"/>
<rect x="606.90" y="744.30" width="24.5" height="12" rx="2.8" fill="#D72426"/>
<rect x="634.00" y="744.30" width="24.5" height="12" rx="2.8" fill="#8FC5C0"/>
<text transform="translate(664,756.30) scale(1,1.08)" font-size="11.3" font-weight="bold">Sophoricoside</text>
<rect x="525.60" y="759.85" width="24.5" height="12" rx="2.8" fill="#EBB08A"/>
<rect x="552.70" y="759.85" width="24.5" height="12" rx="2.8" fill="#6BB7C2"/>
<rect x="579.80" y="759.85" width="24.5" height="12" rx="2.8" fill="#8CC5C0"/>
<rect x="606.90" y="759.85" width="24.5" height="12" rx="2.8" fill="#DC4A3E"/>
<rect x="634.00" y="759.85" width="24.5" height="12" rx="2.8" fill="#7DBFC0"/>
<text transform="translate(664,771.85) scale(1,1.08)" font-size="11.3" font-weight="bold">Sissotrin</text>
<rect x="525.60" y="775.40" width="24.5" height="12" rx="2.8" fill="#E8E0B0"/>
<rect x="552.70" y="775.40" width="24.5" height="12" rx="2.8" fill="#2A90CC"/>
<rect x="579.80" y="775.40" width="24.5" height="12" rx="2.8" fill="#DDE0B3"/>
<rect x="606.90" y="775.40" width="24.5" height="12" rx="2.8" fill="#DF4F43"/>
<rect x="634.00" y="775.40" width="24.5" height="12" rx="2.8" fill="#B7D5B8"/>
<text transform="translate(664,787.40) scale(1,1.08)" font-size="11.3" font-weight="bold">5,7,4'-Trihydroxy-6,8-dimethoxyisoflavone-7-O-galactoside-rhamnose</text>
<path d="M492.0 470.40H524.5M497.4 485.95H524.5M497.4 501.50H524.5M497.4 485.95V501.50M492.0 493.73H497.4M492.0 470.40V493.73M519.2 610.35H524.5M519.2 625.90H524.5M519.2 610.35V625.90M513.6 618.12H519.2M513.6 594.80H524.5M513.6 594.80V618.12M508.4 606.46H513.6M508.4 579.25H524.5M508.4 579.25V606.46M502.9 592.86H508.4M502.9 563.70H524.5M502.9 563.70V592.86M502.9 532.60H524.5M502.9 548.15H524.5M502.9 532.60V548.15M497.4 540.38H502.9M497.4 578.28H502.9M497.4 540.38V578.28M492.0 559.33H497.4M492.0 517.05H524.5M492.0 517.05V559.33M487.3 538.19H492.0M487.3 482.06H492.0M487.3 482.06V538.19M481.9 510.13H487.3M492.0 642.05H524.5M497.4 657.60H524.5M502.9 673.15H524.5M502.9 688.70H524.5M502.9 673.15V688.70M497.4 680.92H502.9M497.4 657.60V680.92M492.0 669.26H497.4M492.0 642.05V669.26M497.4 704.25H524.5M497.4 719.80H524.5M497.4 704.25V719.80M502.9 735.35H524.5M502.9 750.90H524.5M502.9 735.35V750.90M502.9 766.45H524.5M502.9 782.00H524.5M502.9 766.45V782.00M497.4 743.12H502.9M497.4 774.22H502.9M497.4 743.12V774.22M492.0 712.03H497.4M492.0 758.67H497.4M492.0 712.03V758.67M487.3 655.66H492.0M487.3 735.35H492.0M487.3 655.66V735.35M481.9 695.50H487.3M481.9 510.13V695.50" fill="none" stroke="#858585" stroke-width="1.7" stroke-linecap="square"/>
<rect x="475.8" y="477.6" width="396.6" height="157" rx="24" fill="none" stroke="#EBB247" stroke-width="2.1" stroke-dasharray="4 3.6"/>
<defs><linearGradient id="gc" x1="0" y1="0" x2="0" y2="1"><stop offset="0" stop-color="#E52A22"/><stop offset="0.125" stop-color="#E85A3A"/><stop offset="0.25" stop-color="#EB885C"/><stop offset="0.375" stop-color="#EDB682"/><stop offset="0.5" stop-color="#E9E4AC"/><stop offset="0.625" stop-color="#A3CFBF"/><stop offset="0.75" stop-color="#5FB0C5"/><stop offset="0.875" stop-color="#3399CB"/><stop offset="1" stop-color="#2F80C6"/></linearGradient></defs>
<rect x="915.6" y="460.8" width="16.9" height="130.6" fill="url(#gc)"/>
<line x1="933.3" y1="460" x2="933.3" y2="592.2" stroke="#140c0c" stroke-width="2"/>
<line x1="933" y1="460.80" x2="936.7" y2="460.80" stroke="#140c0c" stroke-width="1.8"/>
<text transform="translate(937.4,465.60) scale(1,0.97)" font-size="9.9" font-weight="bold">2.00</text>
<line x1="933" y1="477.12" x2="936.7" y2="477.12" stroke="#140c0c" stroke-width="1.8"/>
<text transform="translate(937.4,481.93) scale(1,0.97)" font-size="9.9" font-weight="bold">1.50</text>
<line x1="933" y1="493.45" x2="936.7" y2="493.45" stroke="#140c0c" stroke-width="1.8"/>
<text transform="translate(937.4,498.25) scale(1,0.97)" font-size="9.9" font-weight="bold">1.00</text>
<line x1="933" y1="509.77" x2="936.7" y2="509.77" stroke="#140c0c" stroke-width="1.8"/>
<text transform="translate(937.4,514.57) scale(1,0.97)" font-size="9.9" font-weight="bold">0.50</text>
<line x1="933" y1="526.10" x2="936.7" y2="526.10" stroke="#140c0c" stroke-width="1.8"/>
<text transform="translate(937.4,530.90) scale(1,0.97)" font-size="9.9" font-weight="bold">0.00</text>
<line x1="933" y1="542.42" x2="936.7" y2="542.42" stroke="#140c0c" stroke-width="1.8"/>
<text transform="translate(937.4,547.22) scale(1,0.97)" font-size="9.9" font-weight="bold">-0.50</text>
<line x1="933" y1="558.75" x2="936.7" y2="558.75" stroke="#140c0c" stroke-width="1.8"/>
<text transform="translate(937.4,563.55) scale(1,0.97)" font-size="9.9" font-weight="bold">-1.00</text>
<line x1="933" y1="575.08" x2="936.7" y2="575.08" stroke="#140c0c" stroke-width="1.8"/>
<text transform="translate(937.4,579.88) scale(1,0.97)" font-size="9.9" font-weight="bold">-1.50</text>
<line x1="933" y1="591.40" x2="936.7" y2="591.40" stroke="#140c0c" stroke-width="1.8"/>
<text transform="translate(937.4,596.20) scale(1,0.97)" font-size="9.9" font-weight="bold">-2.00</text>
<text transform="translate(887,469.9) scale(1,1.04)" font-size="12.6" font-weight="bold">High</text>
<text transform="translate(888.2,594.7) scale(1,1.04)" font-size="12.6" font-weight="bold">Low</text>
<text transform="translate(530.10,807.90) rotate(-45)" font-size="13.5" font-weight="bold" text-anchor="middle" dy="0.33em">Root</text>
<text transform="translate(556.20,809.20) rotate(-45)" font-size="13.5" font-weight="bold" text-anchor="middle" dy="0.33em">Stem</text>
<text transform="translate(583.20,807.00) rotate(-45)" font-size="13.5" font-weight="bold" text-anchor="middle" dy="0.33em">Leaf</text>
<text transform="translate(608.40,811.00) rotate(-45)" font-size="13.5" font-weight="bold" text-anchor="middle" dy="0.33em">Flower</text>
<text transform="translate(636.20,810.10) rotate(-45)" font-size="13.5" font-weight="bold" text-anchor="middle" dy="0.33em">Seed</text>
</svg>
</body></html>
